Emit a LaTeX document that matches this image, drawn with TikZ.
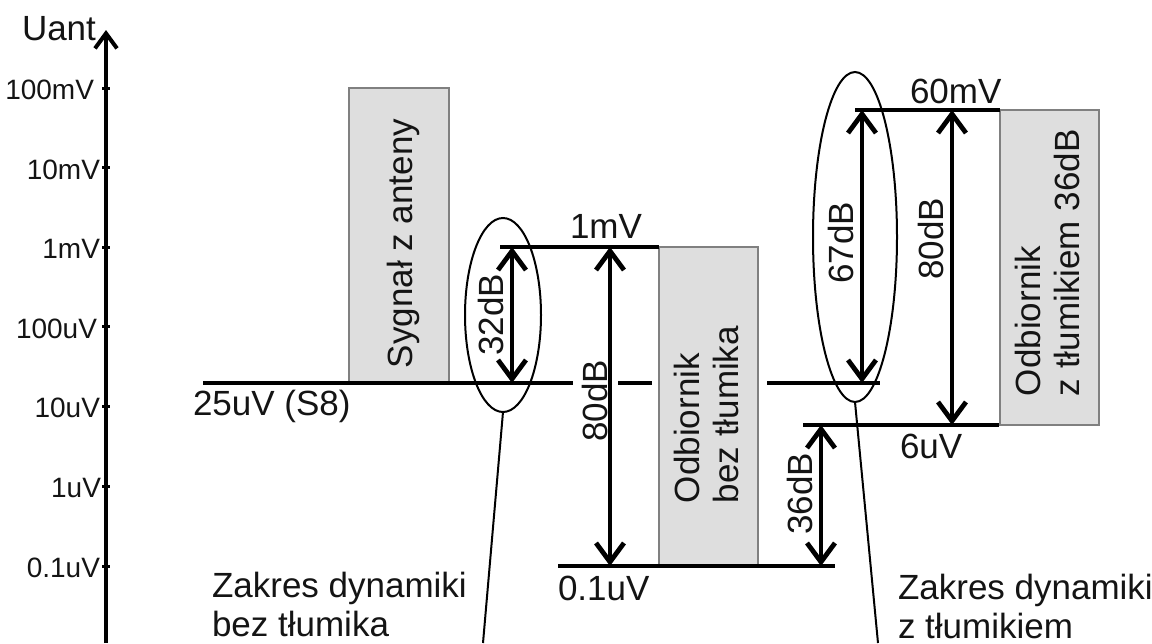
\documentclass[tikz,border=0pt]{standalone}
\usepackage{fontspec}
\setmainfont{Liberation Sans}
\usetikzlibrary{arrows.meta,shapes.geometric}
\begin{document}
\begin{tikzpicture}[x=0.5pt,y=-0.5pt,
  big/.style={font=\fontsize{17.5}{19.5}\selectfont, inner sep=0pt, outer sep=0pt, text=black!92},
  small/.style={font=\fontsize{14}{16}\selectfont, inner sep=0pt, outer sep=0pt, text=black!92},
  level/.style={line width=1.75pt},
  dim/.style={line width=2.4pt, {Straight Barb[length=9.5pt,width=14pt]}-{Straight Barb[length=9.5pt,width=14pt]}},
  greybox/.style={draw=black!50, fill=black!13, line width=0.6pt, inner sep=0pt, outer sep=0pt, anchor=north west},
  dynrange/.style={draw, ellipse, line width=1pt, inner sep=0pt, outer sep=0pt},
  lead/.style={line width=1pt}]
\useasboundingbox (0,0) rectangle (1152,643);

% axis
\coordinate (axb) at (106,643);
\coordinate (axt) at (106,30);
\draw[line width=2pt, -{Straight Barb[length=7.5pt,width=11pt]}] (axb) -- (axt);
\node[big, anchor=base west] (uant) at (22,40) {Uant};
\foreach \yy/\xx/\lab [count=\i] in {88/94/100mV,167.5/100/10mV,247/100/1mV,326.5/97/100uV,406/100/10uV,486/101/1uV,566/100/0.1uV}{
  \draw[line width=1.5pt] (102,\yy) -- (110,\yy);
  \node[small, anchor=east] (tick\i) at (\xx,\yy+2) {\lab};
}

% boxes
\node[greybox, minimum width=50pt, minimum height=147.5pt] (sygbox) at (349,88) {};
\node[greybox, minimum width=49.5pt, minimum height=159.5pt] (odbbox1) at (659,247) {};
\node[greybox, minimum width=49.5pt, minimum height=157.5pt] (odbbox2) at (1000,110) {};
\node[big, rotate=90, anchor=base west] (sygtxt) at (412,368) {Sygnał z anteny};
\node[big, rotate=90, anchor=north west, align=left] (odbtxt1) at (674,503) {Odbiornik\\bez tłumika};
\node[big, rotate=90, anchor=north west, align=left] (odbtxt2) at (1015,396) {Odbiornik\\z tłumikiem 36dB};

% levels
\draw[level] (203,383) -- (573,383);
\draw[level] (618,383) -- (652,383);
\draw[level] (767,383) -- (880,383);
\draw[level] (500,247) -- (659,247);
\draw[level] (558,566) -- (835,566);
\draw[level] (855,110) -- (1000,110);
\draw[level] (803,425) -- (999,425);

\node[big, anchor=base west] (l25) at (193,415) {25uV (S8)};
\node[big, anchor=base west] (l1m) at (570,238) {1mV};
\node[big, anchor=base west] (l01u) at (558,600) {0.1uV};
\node[big, anchor=base west] (l6u) at (900,458) {6uV};
\node[big, anchor=base west] (l60m) at (910,103) {60mV};

% dimension arrows
\coordinate (a1t) at (512,247); \coordinate (a1b) at (512,383);
\coordinate (a2t) at (610,247); \coordinate (a2b) at (610,566);
\coordinate (a3t) at (821,425); \coordinate (a3b) at (821,566);
\coordinate (a4t) at (862,110); \coordinate (a4b) at (862,383);
\coordinate (a5t) at (952,110); \coordinate (a5b) at (952,425);
\draw[dim] (a1t) -- (a1b);
\draw[dim] (a2t) -- (a2b);
\draw[dim] (a3t) -- (a3b);
\draw[dim] (a4t) -- (a4b);
\draw[dim] (a5t) -- (a5b);
\node[big, rotate=90, anchor=base] (d32) at (503,315) {32dB};
\node[big, rotate=90, anchor=base] (d80a) at (607,401) {80dB};
\node[big, rotate=90, anchor=base] (d36) at (812,494) {36dB};
\node[big, rotate=90, anchor=base] (d67) at (853,243) {67dB};
\node[big, rotate=90, anchor=base] (d80b) at (943,239) {80dB};

% ranges
\node[dynrange, minimum width=38pt, minimum height=97pt] (rng1) at (503,315) {};
\node[dynrange, minimum width=42pt, minimum height=165pt] (rng2) at (855,237) {};
\coordinate (lead1) at (483,643);
\coordinate (lead2) at (878,643);
\draw[lead] (rng1.south) -- (lead1);
\draw[lead] (rng2.south) -- (lead2);

\node[big, anchor=north west, align=left] (zak1) at (212,572) {Zakres dynamiki\\bez tłumika};
\node[big, anchor=north west, align=left] (zak2) at (898,574) {Zakres dynamiki\\z tłumikiem};
\end{tikzpicture}
\end{document}
